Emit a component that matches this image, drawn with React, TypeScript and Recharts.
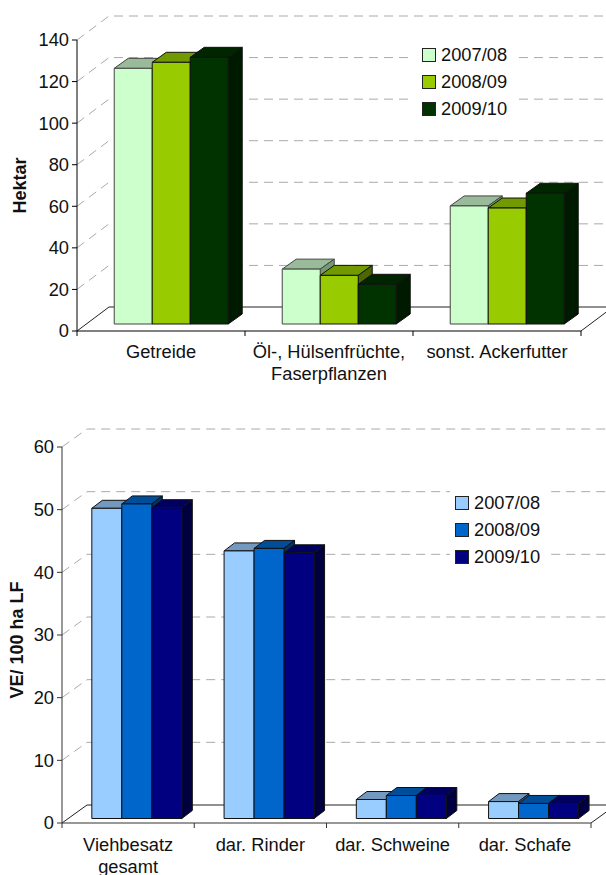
import { Bar, BarChart, CartesianGrid, Legend, XAxis, YAxis } from "recharts";

const seasons = ["2007/08", "2008/09", "2009/10"];

const cropCategories = ["Getreide", "Öl-, Hülsenfrüchte,\nFaserpflanzen", "sonst. Ackerfutter"];
const crop0708 = [123, 26.4, 56.8];
const crop0809 = [125.9, 23.4, 55.8];
const crop0910 = [128.3, 19.1, 62.9];
const cropTicks = [0, 20, 40, 60, 80, 100, 120, 140];

const stockCategories = ["Viehbesatz\ngesamt", "dar. Rinder", "dar. Schweine", "dar. Schafe"];
const stock0708 = [49.5, 42.7, 3.03, 2.7];
const stock0809 = [50.2, 43.1, 3.67, 2.4];
const stock0910 = [49.6, 42.4, 3.67, 2.4];
const stockTicks = [0, 10, 20, 30, 40, 50, 60];

const greens = [
  { front: "#ccffcc", top: "#99bb99", side: "#739973", edge: "#444444" },
  { front: "#99cc00", top: "#739900", side: "#4d6600", edge: "#111111" },
  { front: "#003300", top: "#002600", side: "#001a00", edge: "#111111" },
];
const blues = [
  { front: "#99ccff", top: "#7399bf", side: "#4d6680", edge: "#111111" },
  { front: "#0066cc", top: "#004d99", side: "#003366", edge: "#111111" },
  { front: "#000080", top: "#000060", side: "#000040", edge: "#111111" },
];

const font = '"Liberation Sans", Arial, sans-serif';
const textSize = 18.3;

type Swatch = { front: string; top: string; side: string; edge: string };

type PanelProps = {
  categories: string[];
  series: number[][];
  ticks: number[];
  yMax: number;
  yLabel: string;
  yLabelDx: number;
  yLabelDy: number;
  axisWidth: number;
  colors: Swatch[];
  height: number;
  margin: { top: number; right: number; bottom: number; left: number };
  xAxisHeight: number;
  wall: { dx: number; dy: number };
  shift: { dx: number; dy: number };
  depth: { dx: number; dy: number };
  legendBox: { left: number; top: number; width: number; height: number; pad: number };
  axisColor: string;
  labelDy: number;
};

function Panel(p: PanelProps) {
  const data = p.categories.map((name, i) => ({
    name,
    s0: p.series[0][i],
    s1: p.series[1][i],
    s2: p.series[2][i],
  }));
  const bottom = p.height - p.margin.bottom - p.xAxisHeight;

  const wallLine = (g: any) => {
    const { x1, x2, y1 } = g;
    const floor = Math.abs(y1 - bottom) < 1;
    const stroke = floor ? "#222222" : "#aaaaaa";
    const dash = floor ? undefined : "9 6";
    const bx = x1 + p.wall.dx;
    const by = y1 - p.wall.dy;
    return (
      <g key={g.key}>
        <path d={`M${x1},${y1}L${bx},${by}L${x2 + p.wall.dx},${by}`} fill="none" stroke={stroke} strokeDasharray={dash} />
        {floor && <path d={`M${x2},${y1}L${x2 + p.wall.dx},${by}`} fill="none" stroke={stroke} />}
      </g>
    );
  };

  const bar3d = (c: Swatch) => (b: any) => {
    const x = b.x + p.shift.dx;
    const y = b.y + p.shift.dy;
    const { width: w, height: h } = b;
    const { dx, dy } = p.depth;
    return (
      <g stroke={c.edge} strokeWidth={1} strokeLinejoin="round">
        <path d={`M${x},${y}L${x + dx},${y - dy}L${x + w + dx},${y - dy}L${x + w},${y}Z`} fill={c.top} />
        <path d={`M${x + w},${y}L${x + w + dx},${y - dy}L${x + w + dx},${y + h - dy}L${x + w},${y + h}Z`} fill={c.side} />
        <rect x={x} y={y} width={w} height={h} fill={c.front} />
      </g>
    );
  };

  const categoryTick = (t: any) => {
    const band = t.width / p.categories.length;
    const lines = String(t.payload.value).split("\n");
    const tickTop = t.y - 5;
    return (
      <g>
        <line x1={t.x - band / 2} x2={t.x - band / 2} y1={tickTop} y2={t.y} stroke={p.axisColor} />
        {t.index === p.categories.length - 1 && (
          <line x1={t.x + band / 2} x2={t.x + band / 2} y1={tickTop} y2={t.y} stroke={p.axisColor} />
        )}
        <text x={t.x} y={t.y + p.labelDy} textAnchor="middle" fontSize={textSize} fontFamily={font} fill="#111111">
          {lines.map((line: string, i: number) => (
            <tspan key={line} x={t.x} dy={i === 0 ? 0 : 22}>
              {line}
            </tspan>
          ))}
        </text>
      </g>
    );
  };

  const legendContent = (l: any) => (
    <div
      style={{
        background: "#ffffff",
        width: p.legendBox.width,
        height: p.legendBox.height,
        boxSizing: "border-box",
        paddingLeft: p.legendBox.pad,
      }}
    >
      {l.payload.map((entry: any, i: number) => (
        <div key={entry.value} style={{ display: "flex", alignItems: "center", height: 27, fontSize: textSize, fontFamily: font, color: "#111111" }}>
          <span
            style={{
              display: "inline-block",
              width: 12,
              height: 12,
              boxSizing: "content-box",
              background: p.colors[i].front,
              border: "1px solid #222222",
              marginRight: 5,
            }}
          />
          {entry.value}
        </div>
      ))}
    </div>
  );

  return (
    <BarChart
      width={606}
      height={p.height}
      data={data}
      margin={p.margin}
      barCategoryGap="16.5%"
      barGap={0}
    >
      <CartesianGrid vertical={false} horizontal={wallLine} />
      <XAxis
        dataKey="name"
        interval={0}
        height={p.xAxisHeight}
        axisLine={{ stroke: p.axisColor }}
        tickLine={false}
        tick={categoryTick}
        tickSize={5}
        tickMargin={0}
      />
      <YAxis
        type="number"
        domain={[0, p.yMax]}
        ticks={p.ticks}
        interval={0}
        width={p.axisWidth}
        axisLine={{ stroke: p.axisColor }}
        tickLine={{ stroke: p.axisColor }}
        tickSize={5}
        tickMargin={3}
        tick={{ fontSize: textSize, fontFamily: font, fill: "#111111" }}
        label={{
          value: p.yLabel,
          angle: -90,
          position: "insideLeft",
          dx: p.yLabelDx,
          dy: p.yLabelDy,
          style: { textAnchor: "middle", fontSize: 18, fontWeight: 700, fontFamily: font, fill: "#111111" },
        }}
      />
      <Legend
        layout="vertical"
        align="center"
        verticalAlign="middle"
        content={legendContent}
        wrapperStyle={{ left: p.legendBox.left, top: p.legendBox.top, width: p.legendBox.width, height: p.legendBox.height }}
      />
      {seasons.map((season, i) => (
        <Bar
          key={season}
          dataKey={`s${i}`}
          name={season}
          fill={p.colors[i].front}
          shape={bar3d(p.colors[i])}
          isAnimationActive={false}
        />
      ))}
    </BarChart>
  );
}

export default function App() {
  return (
    <div style={{ position: "absolute", left: 0, top: 0, width: 606, height: 875, overflow: "hidden", background: "#ffffff" }}>
      <Panel
        categories={cropCategories}
        series={[crop0708, crop0809, crop0910]}
        ticks={cropTicks}
        yMax={140}
        yLabel="Hektar"
        yLabelDx={15}
        yLabelDy={0}
        axisWidth={77}
        colors={greens}
        height={400}
        margin={{ top: 40, right: 25, bottom: 0, left: 0 }}
        xAxisHeight={69}
        wall={{ dx: 32, dy: 24 }}
        shift={{ dx: 9.5, dy: -7 }}
        depth={{ dx: 14, dy: 10 }}
        legendBox={{ left: 410, top: 41, width: 105, height: 81, pad: 12 }}
        axisColor="#000000"
        labelDy={22}
      />
      <Panel
        categories={stockCategories}
        series={[stock0708, stock0809, stock0910]}
        ticks={stockTicks}
        yMax={60}
        yLabel="VE/ 100 ha LF"
        yLabelDx={12}
        yLabelDy={5}
        axisWidth={62}
        colors={blues}
        height={475}
        margin={{ top: 47, right: 15, bottom: 0, left: 0 }}
        xAxisHeight={52}
        wall={{ dx: 25, dy: 18 }}
        shift={{ dx: 8, dy: -4.5 }}
        depth={{ dx: 10.5, dy: 8 }}
        legendBox={{ left: 450, top: 89, width: 98, height: 81, pad: 5 }}
        axisColor="#333333"
        labelDy={23}
      />
    </div>
  );
}
